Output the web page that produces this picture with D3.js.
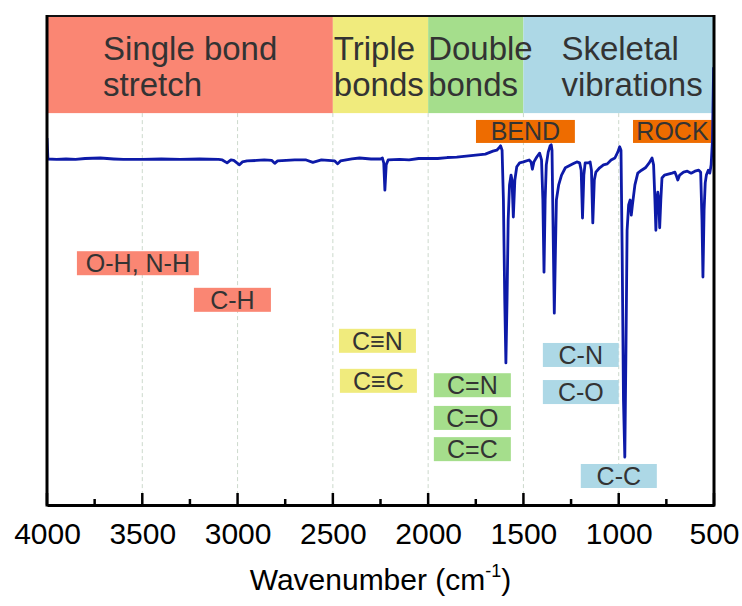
<!DOCTYPE html>
<html>
<head>
<meta charset="utf-8">
<script src="https://cdn.jsdelivr.net/npm/d3@7"></script>
<style>
  html, body { margin: 0; padding: 0; background: #fff; }
  svg { display: block; }
  text { font-family: "Liberation Sans", Arial, sans-serif; }
</style>
</head>
<body>
<svg id="chart" width="742" height="606"></svg>
<script>
// ---------- DATA ----------
// FTIR spectrum: wavenumber (cm-1) and relative transmittance (arbitrary %)
const wavenumber = [4000, 3995, 3950, 3900, 3850, 3800, 3720, 3650, 3600, 3500, 3400, 3300, 3200, 3100, 3080, 3055, 3035, 3020, 2990, 2975, 2950, 2900, 2860, 2820, 2805, 2790, 2700, 2640, 2605, 2560, 2490, 2475, 2460, 2400, 2360, 2300, 2250, 2240, 2233, 2227, 2220, 2210, 2150, 2100, 2050, 2000, 1950, 1900, 1850, 1800, 1750, 1700, 1660, 1640, 1630, 1620, 1612, 1605, 1598, 1592, 1586, 1580, 1573, 1565, 1560, 1553, 1545, 1535, 1520, 1500, 1470, 1460, 1453, 1445, 1430, 1415, 1405, 1398, 1392, 1386, 1380, 1370, 1360, 1354, 1350, 1345, 1338, 1332, 1327, 1315, 1300, 1280, 1260, 1240, 1220, 1205, 1197, 1190, 1183, 1176, 1160, 1150, 1143, 1136, 1128, 1120, 1100, 1080, 1060, 1040, 1020, 1005, 995, 988, 982, 975, 968, 962, 956, 948, 940, 934, 928, 915, 900, 880, 860, 840, 825, 817, 810, 805, 800, 795, 790, 785, 779, 773, 760, 740, 720, 705, 697, 690, 680, 660, 640, 620, 600, 580, 570, 563, 558, 552, 546, 540, 530, 522, 515, 508, 502];
const transmittance = [75.0, 70.7, 70.6, 70.7, 70.6, 70.8, 70.9, 70.7, 70.6, 70.6, 70.7, 70.6, 70.7, 70.6, 70.5, 69.9, 70.5, 70.4, 69.5, 70.1, 70.3, 70.4, 70.5, 70.4, 69.8, 70.3, 70.5, 70.5, 70.0, 70.5, 70.3, 69.7, 70.3, 70.7, 70.9, 70.7, 70.7, 70.9, 69.9, 64.3, 69.5, 70.5, 70.6, 70.5, 70.8, 70.8, 70.8, 71.0, 71.1, 71.3, 71.5, 71.7, 72.3, 72.5, 72.9, 73.4, 72.5, 62.3, 41.8, 28.9, 41.8, 58.2, 65.4, 67.4, 66.4, 58.8, 66.4, 69.1, 69.9, 70.1, 70.5, 70.1, 68.6, 70.1, 71.1, 71.9, 70.5, 62.3, 47.5, 62.3, 69.5, 72.1, 73.4, 73.6, 72.5, 58.2, 39.1, 52.0, 62.3, 65.4, 67.4, 68.9, 69.3, 69.7, 70.1, 69.9, 68.4, 58.6, 67.4, 69.9, 69.9, 70.1, 68.4, 57.6, 66.4, 68.0, 68.9, 69.5, 69.7, 70.5, 70.9, 72.1, 73.2, 72.5, 52.0, 21.3, 9.6, 31.6, 56.1, 61.3, 62.3, 59.2, 61.3, 65.4, 67.8, 68.4, 68.9, 69.9, 70.9, 69.5, 62.3, 56.1, 62.3, 63.9, 62.3, 56.6, 62.3, 66.8, 67.4, 67.6, 67.8, 68.0, 67.2, 66.4, 67.4, 68.0, 68.2, 67.8, 68.2, 68.4, 68.0, 58.2, 46.5, 60.2, 65.8, 67.4, 68.4, 67.8, 69.5, 74.6, 89.5];

// x axis ticks
const majorTicks = [4000, 3500, 3000, 2500, 2000, 1500, 1000, 500];
const minorTicks = [3750, 3250, 2750, 2250, 1750, 1250, 750];
const gridTicks = [3500, 3000, 2500, 2000, 1500, 1000];

// Region bands along the top (wavenumber ranges)
const bandNames = [["Single bond", "stretch"], ["Triple", "bonds"], ["Double", "bonds"], ["Skeletal", "vibrations"]];
const bandFrom = [4000, 2500, 2000, 1500];
const bandTo = [2500, 2000, 1500, 500];
const bandGroup = ["single", "triple", "double", "skeletal"];

// Vibration mode tags
const modeNames = ["BEND", "ROCK"];
const modeFrom = [1749, 925];
const modeTo = [1230, 511];

// Functional group labels: wavenumber range and vertical level (transmittance units)
const labelNames = ["O-H, N-H", "C-H", "C\u2261N", "C\u2261C", "C=N", "C=O", "C=C", "C-N", "C-O", "C-C"];
const labelFrom = [3843, 3229, 2468, 2463, 1970, 1970, 1970, 1398, 1398, 1199];
const labelTo = [3203, 2825, 2064, 2059, 1566, 1566, 1566, 1000, 1000, 800];
const labelTop = [51.8, 44.3, 35.9, 27.7, 26.8, 20.1, 13.7, 33.0, 25.4, 8.2];
const labelGroup = ["single", "single", "triple", "triple", "double", "double", "double", "skeletal", "skeletal", "skeletal"];

// ---------- STYLE / LAYOUT ----------
const groupColor = { single: "#FA8673", triple: "#F0EB7D", double: "#A5DE8C", skeletal: "#ADD8E6" };
const modeColor = "#EE6C00";
const textColor = "#333333";
const lineColor = "#0D1AA8";

const W = 742, H = 606;
const plot = { left: 47, right: 714, top: 16, bottom: 505 };
const bandBottomValue = 80.1;   // transmittance level where the band strip ends
const modeTopValue = 78.7, modeHeightPx = 23;
const labelHeightPx = 24;
const bandTextOffset = [56, 1, 0, 38];

const svg = d3.select("#chart");

const x = d3.scaleLinear().domain([4000, 500]).range([plot.left, plot.right]);
const y = d3.scaleLinear().domain([0, 100]).range([plot.bottom - 1, plot.top]);

// clip
svg.append("defs").append("clipPath").attr("id", "clip")
  .append("rect").attr("x", plot.left).attr("y", plot.top)
  .attr("width", plot.right - plot.left).attr("height", plot.bottom - plot.top);

// grid lines
svg.append("g").selectAll("line").data(gridTicks).join("line")
  .attr("x1", d => x(d)).attr("x2", d => x(d))
  .attr("y1", y(bandBottomValue)).attr("y2", plot.bottom)
  .attr("stroke", "#CCD9CC").attr("stroke-width", 1).attr("stroke-dasharray", "4,3");

// bands
const bands = svg.append("g");
bandNames.forEach((names, i) => {
  bands.append("rect")
    .attr("x", x(bandFrom[i])).attr("y", plot.top)
    .attr("width", x(bandTo[i]) - x(bandFrom[i]))
    .attr("height", y(bandBottomValue) - plot.top)
    .attr("fill", groupColor[bandGroup[i]]);
});
bandNames.forEach((names, i) => {
  const t = bands.append("text")
    .attr("x", x(bandFrom[i]) + bandTextOffset[i])
    .attr("font-size", 33).attr("fill", textColor);
  names.forEach((n, j) => {
    t.append("tspan").attr("x", x(bandFrom[i]) + bandTextOffset[i]).attr("y", 60 + j * 36).text(n);
  });
});

// mode tags (BEND, ROCK)
const modes = svg.append("g");
modeNames.forEach((n, i) => {
  modes.append("rect")
    .attr("x", x(modeFrom[i])).attr("y", y(modeTopValue))
    .attr("width", x(modeTo[i]) - x(modeFrom[i])).attr("height", modeHeightPx)
    .attr("fill", modeColor);
  modes.append("text")
    .attr("x", (x(modeFrom[i]) + x(modeTo[i])) / 2)
    .attr("y", y(modeTopValue) + modeHeightPx / 2 + 9)
    .attr("text-anchor", "middle").attr("font-size", 25).attr("fill", textColor)
    .text(n);
});

// functional group labels
const labels = svg.append("g");
labelNames.forEach((n, i) => {
  labels.append("rect")
    .attr("x", x(labelFrom[i])).attr("y", y(labelTop[i]))
    .attr("width", x(labelTo[i]) - x(labelFrom[i])).attr("height", labelHeightPx)
    .attr("fill", groupColor[labelGroup[i]]);
  labels.append("text")
    .attr("x", (x(labelFrom[i]) + x(labelTo[i])) / 2)
    .attr("y", y(labelTop[i]) + labelHeightPx / 2 + 9)
    .attr("text-anchor", "middle").attr("font-size", 25).attr("fill", textColor)
    .text(n);
});

// spectrum
const pts = wavenumber.map((w, i) => [w, transmittance[i]]);
svg.append("path")
  .datum(pts)
  .attr("clip-path", "url(#clip)")
  .attr("fill", "none").attr("stroke", lineColor)
  .attr("stroke-width", 2.8).attr("stroke-linejoin", "round")
  .attr("d", d3.line().x(d => x(d[0])).y(d => y(d[1])));

// frame
const frame = svg.append("g");
frame.append("line").attr("x1", plot.left).attr("x2", plot.right).attr("y1", plot.top).attr("y2", plot.top)
  .attr("stroke", "#111").attr("stroke-width", 2);
frame.append("line").attr("x1", plot.left).attr("x2", plot.left).attr("y1", plot.top - 1).attr("y2", plot.bottom + 1.5)
  .attr("stroke", "#000").attr("stroke-width", 3);
frame.append("line").attr("x1", plot.right).attr("x2", plot.right).attr("y1", plot.top - 1).attr("y2", plot.bottom + 1.5)
  .attr("stroke", "#000").attr("stroke-width", 3);

// x axis
const xAxis = d3.axisBottom(x).tickValues(majorTicks).tickSize(0).tickPadding(0).tickFormat(d3.format("d"));
const gx = svg.append("g").attr("transform", `translate(0,${plot.bottom})`).call(xAxis);
gx.select(".domain").attr("stroke", "#000").attr("stroke-width", 3);
gx.selectAll(".tick text").attr("font-size", 30).attr("fill", "#000")
  .attr("font-family", "Liberation Sans, Arial, sans-serif").attr("dy", null).attr("y", 39);
gx.selectAll(".tick line").remove();

// tick marks pointing inward
svg.append("g").selectAll("line").data(majorTicks).join("line")
  .attr("x1", d => x(d)).attr("x2", d => x(d))
  .attr("y1", plot.bottom).attr("y2", plot.bottom - 12)
  .attr("stroke", "#000").attr("stroke-width", 2.5);
svg.append("g").selectAll("line").data(minorTicks).join("line")
  .attr("x1", d => x(d)).attr("x2", d => x(d))
  .attr("y1", plot.bottom).attr("y2", plot.bottom - 6)
  .attr("stroke", "#000").attr("stroke-width", 2.5);

// axis title
const title = svg.append("text")
  .attr("x", (plot.left + plot.right) / 2).attr("y", 590)
  .attr("text-anchor", "middle").attr("font-size", 30).attr("fill", "#000");
title.append("tspan").text("Wavenumber (cm");
title.append("tspan").attr("font-size", 18).attr("dy", -13).text("-1");
title.append("tspan").attr("dy", 13).text(")");
</script>
</body>
</html>
